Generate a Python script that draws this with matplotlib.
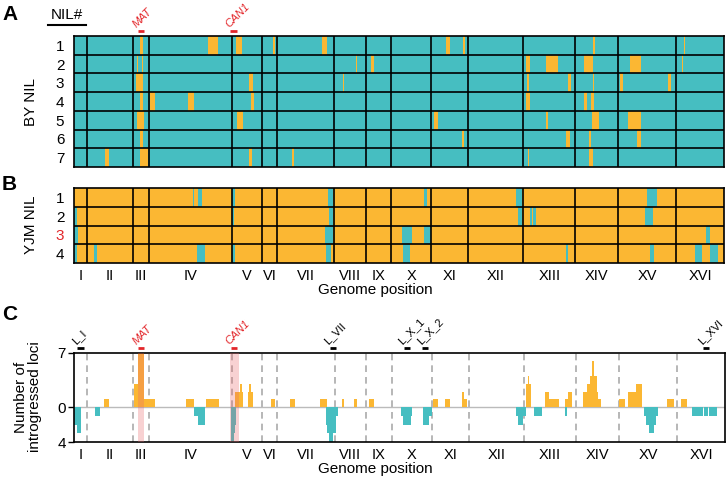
import numpy as np
import matplotlib.pyplot as plt
from matplotlib.lines import Line2D
from matplotlib.transforms import ScaledTranslation

plt.rcParams['font.family'] = ['Liberation Sans', 'DejaVu Sans']

CYAN = '#46BEC1'
ORANGE = '#FBB733'
RED = '#E3262A'

chroms = ['I', 'II', 'III', 'IV', 'V', 'VI', 'VII', 'VIII', 'IX', 'X',
          'XI', 'XII', 'XIII', 'XIV', 'XV', 'XVI']
chrom_len = [0.24, 0.85, 0.30, 1.54, 0.56, 0.28, 1.06, 0.59, 0.47, 0.74,
             0.69, 1.02, 0.97, 0.80, 1.07, 0.89]  # Mb

# YJM segments (orange) in the BY NILs, genome position in Mb
by_nil = [
    [(1.23, 1.28), (2.49, 2.67), (3.01, 3.12), (3.70, 3.73), (4.61, 4.70),
     (6.91, 6.98), (7.22, 7.26), (9.64, 9.68), (11.33, 11.35)],
    [(1.17, 1.19), (1.26, 1.28), (5.24, 5.26), (5.52, 5.57), (8.39, 8.47),
     (8.77, 8.99), (9.47, 9.64), (10.33, 10.53), (11.29, 11.31)],
    [(1.15, 1.28), (3.25, 3.32), (5.00, 5.01), (8.41, 8.45), (9.17, 9.23),
     (9.64, 9.66), (10.14, 10.20), (11.03, 11.09)],
    [(1.23, 1.28), (1.41, 1.50), (2.12, 2.23), (3.29, 3.34), (8.39, 8.47),
     (9.47, 9.53), (9.60, 9.66)],
    [(1.17, 1.30), (3.03, 3.14), (6.69, 6.76), (8.77, 8.80), (9.62, 9.75),
     (10.29, 10.53)],
    [(1.23, 1.28), (7.21, 7.24), (9.14, 9.21), (9.56, 9.60), (10.46, 10.53)],
    [(0.58, 0.65), (1.23, 1.37), (3.25, 3.31), (4.05, 4.09), (8.43, 8.45),
     (9.56, 9.64)],
]

# BY segments (cyan) in the YJM NILs
yjm_nil = [
    [(2.21, 2.23), (2.30, 2.38), (2.93, 2.99), (4.72, 4.81), (6.50, 6.56),
     (8.21, 8.32), (10.64, 10.83)],
    [(0.00, 0.06), (2.93, 2.97), (4.74, 4.81), (8.25, 8.32), (8.47, 8.51),
     (8.52, 8.58), (10.60, 10.75)],
    [(0.00, 0.07), (4.66, 4.81), (6.09, 6.28), (6.50, 6.63), (11.74, 11.81)],
    [(0.00, 0.06), (0.37, 0.43), (2.28, 2.43), (2.93, 2.99), (4.68, 4.77),
     (6.11, 6.24), (9.14, 9.17), (10.70, 10.77), (11.53, 11.66), (11.81, 11.96)],
]

# number of introgressed loci: (start Mb, end Mb, count)
by_counts = [
    (0.55, 0.64, 1),
    (1.11, 1.19, 3), (1.19, 1.29, 7), (1.29, 1.50, 1),
    (2.07, 2.23, 1), (2.45, 2.69, 1),
    (2.98, 3.08, 2), (3.08, 3.11, 3), (3.11, 3.14, 2),
    (3.23, 3.25, 2), (3.25, 3.28, 3), (3.28, 3.32, 2),
    (3.66, 3.73, 1), (4.01, 4.09, 1), (4.57, 4.70, 1),
    (4.96, 5.01, 1), (5.20, 5.25, 1), (5.47, 5.57, 1),
    (6.65, 6.75, 1), (6.87, 6.98, 1), (7.19, 7.24, 2), (7.24, 7.28, 1),
    (8.38, 8.41, 3), (8.41, 8.44, 4), (8.44, 8.48, 3),
    (8.73, 8.81, 2), (8.81, 8.99, 1), (9.11, 9.15, 1), (9.15, 9.23, 2),
    (9.43, 9.51, 2), (9.51, 9.56, 3), (9.56, 9.60, 4), (9.60, 9.64, 6),
    (9.64, 9.69, 4), (9.69, 9.71, 2), (9.71, 9.78, 1),
    (10.11, 10.21, 1), (10.28, 10.42, 2), (10.42, 10.54, 3),
    (11.00, 11.13, 1), (11.25, 11.36, 1),
]
yjm_counts = [
    (0.00, 0.06, 2), (0.06, 0.13, 3), (0.39, 0.48, 1),
    (2.23, 2.29, 1), (2.29, 2.42, 2),
    (2.92, 2.96, 4), (2.96, 2.98, 3), (2.98, 3.01, 2),
    (4.68, 4.70, 2), (4.70, 4.72, 3), (4.72, 4.80, 4), (4.80, 4.85, 3), (4.85, 4.89, 1),
    (6.07, 6.10, 1), (6.10, 6.25, 2), (6.25, 6.27, 1),
    (6.47, 6.58, 2), (6.58, 6.64, 1),
    (8.19, 8.24, 1), (8.24, 8.33, 2), (8.33, 8.38, 1),
    (8.53, 8.67, 1), (9.10, 9.14, 1),
    (10.57, 10.60, 1), (10.60, 10.66, 2), (10.66, 10.75, 3), (10.75, 10.79, 2), (10.79, 10.83, 1),
    (11.46, 11.66, 1), (11.68, 11.75, 1), (11.77, 11.92, 1),
]

gene_names = ['MAT', 'CAN1']
gene_pos = [1.245, 2.965]
gene_band = [(1.19, 1.30), (2.90, 3.05)]
lethal_names = ['L_I', 'L_VII', 'L_X_1', 'L_X_2', 'L_XVI']
lethal_pos = [0.12, 4.80, 6.17, 6.51, 11.72]

bounds = np.concatenate([[0], np.cumsum(chrom_len)])
centers = (bounds[:-1] + bounds[1:]) / 2
total = bounds[-1]

W, H = 726, 478
fig = plt.figure(figsize=(W / 100, H / 100), dpi=100)


def px_axes(left, top, right, bottom):
    return fig.add_axes([left / W, 1 - bottom / H, (right - left) / W, (bottom - top) / H])


def mark(ax, pos, label, color, italic=False):
    tr = ax.get_xaxis_transform()
    up = ScaledTranslation(0, 5 / 100, fig.dpi_scale_trans)
    ax.plot([pos - 0.06, pos + 0.06], [1, 1], color=color, lw=2,
            transform=tr + up, clip_on=False, solid_capstyle='butt')
    up2 = ScaledTranslation(0, 7 / 100, fig.dpi_scale_trans)
    ax.text(pos - 0.06, 1, label, color=color, fontsize=8, rotation=45,
            style='italic' if italic else 'normal', ha='left', va='bottom',
            rotation_mode='anchor', transform=tr + up2)


def nil_panel(ax, segs, bg, fg):
    n = len(segs)
    ax.set_facecolor(bg)
    for i, row in enumerate(segs):
        ax.broken_barh([(s, e - s) for s, e in row], (i, 1), facecolors=fg,
                       edgecolor='none')
    for b in bounds[1:-1]:
        ax.axvline(b, color='black', lw=1.2)
    for r in range(1, n):
        ax.axhline(r, color='black', lw=1.2)
    ax.set_xlim(0, total)
    ax.set_ylim(n, 0)
    ax.set_yticks(np.arange(n) + 0.5)
    ax.set_yticklabels([str(i + 1) for i in range(n)], fontsize=11)
    ax.tick_params(length=0, pad=7)
    for sp in ax.spines.values():
        sp.set_linewidth(1.2)


# Panel A
axA = px_axes(74, 36, 724, 167)
nil_panel(axA, by_nil, CYAN, ORANGE)
axA.set_xticks([])
for name, p in zip(gene_names, gene_pos):
    mark(axA, p, name, RED, italic=True)

# Panel B
axB = px_axes(74, 188, 724, 263)
nil_panel(axB, yjm_nil, ORANGE, CYAN)
axB.get_yticklabels()[2].set_color(RED)
axB.set_xticks(centers)
axB.set_xticklabels(chroms, fontsize=10.5)
axB.tick_params(axis='x', pad=4)

# Panel C
neg = 1.13
axC = px_axes(74, 353, 725, 442)
for b in bounds[1:-1]:
    axC.axvline(b, color='#AAAAAA', lw=1.2, ls=(0, (4, 3)), zorder=0.5)
axC.axhline(0, color='#BBBBBB', lw=1, zorder=0.8)
for s, e, c in by_counts:
    axC.bar(s, c, width=e - s, align='edge', color=ORANGE, linewidth=0, zorder=2)
for s, e, c in yjm_counts:
    axC.bar(s, -c * neg, width=e - s, align='edge', color=CYAN, linewidth=0, zorder=2)
for s, e in gene_band:
    axC.axvspan(s, e, color='#E8686B', alpha=0.3, lw=0, zorder=3)
axC.set_xlim(0, total)
axC.set_ylim(-4 * neg, 7)
axC.set_yticks([7, 0, -4 * neg])
axC.set_yticklabels(['7', '0', '4'], fontsize=11)
axC.tick_params(axis='y', length=4, width=1, pad=2)
axC.set_xticks(centers)
axC.set_xticklabels(chroms, fontsize=10.5)
axC.tick_params(axis='x', length=0, pad=4)
for sp in axC.spines.values():
    sp.set_linewidth(1.2)
for name, p in zip(gene_names, gene_pos):
    mark(axC, p, name, RED, italic=True)
for name, p in zip(lethal_names, lethal_pos):
    mark(axC, p, name, 'black')

# labels
fig.text(2 / W, 1 - 20 / H, 'A', fontsize=15, weight='bold', va='baseline')
fig.text(2 / W, 1 - 190 / H, 'B', fontsize=15, weight='bold', va='baseline')
fig.text(2 / W, 1 - 320 / H, 'C', fontsize=15, weight='bold', va='baseline')
fig.text(67 / W, 1 - 15 / H, 'NIL#', fontsize=11, ha='center', va='center')
fig.add_artist(Line2D([48 / W, 86 / W], [1 - 25 / H, 1 - 25 / H], color='black', lw=1.5))
fig.text(31 / W, 1 - 102 / H, 'BY NIL', fontsize=11, rotation=90, ha='center', va='center')
fig.text(31 / W, 1 - 225 / H, 'YJM NIL', fontsize=11, rotation=90, ha='center', va='center')
fig.text(375 / W, 1 - 290 / H, 'Genome position', fontsize=11, ha='center', va='center')
fig.text(375 / W, 1 - 469 / H, 'Genome position', fontsize=11, ha='center', va='center')
fig.text(28 / W, 1 - 397 / H, 'Number of\nintrogressed loci', fontsize=11, rotation=90,
         ha='center', va='center', multialignment='center', linespacing=0.95)

fig.savefig('out.png', dpi=100)
